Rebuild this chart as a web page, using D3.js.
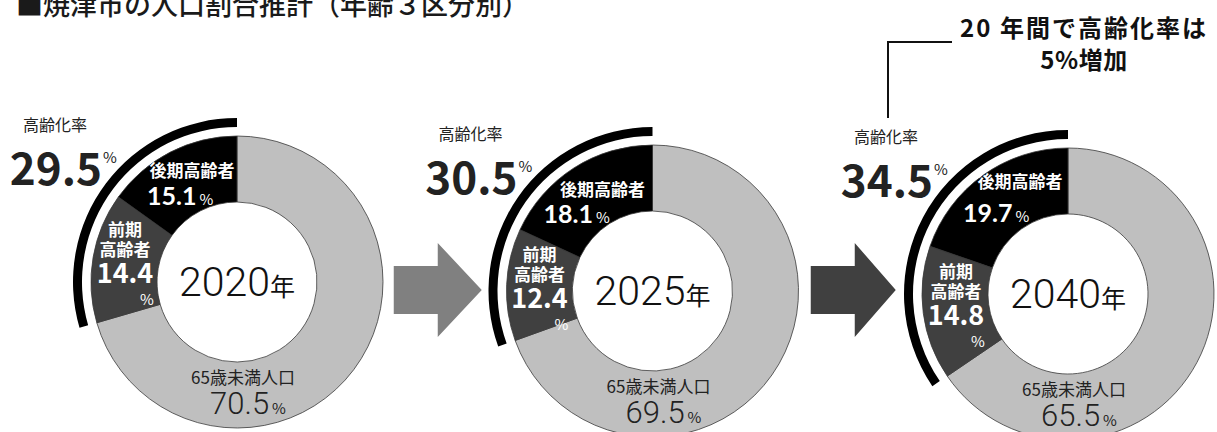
<!DOCTYPE html>
<html><head><meta charset="utf-8">
<script src="https://cdn.jsdelivr.net/npm/d3@7"></script>
<style>
html,body{margin:0;padding:0;background:#fff;}
svg{display:block;}
text{font-family:"Noto Sans CJK JP","Noto Sans",sans-serif;}
</style></head><body>
<svg id="chart" width="1217" height="432"></svg>
<script>
// ---- data ----
const years = ["2020", "2025", "2040"];
const segmentNames = ["65歳未満人口", "前期高齢者", "後期高齢者"];
const under65 = [70.5, 69.5, 65.5];        // 65歳未満人口 (%)
const earlyElderly = [14.4, 12.4, 14.8];   // 前期高齢者 (%)
const lateElderly = [15.1, 18.1, 19.7];    // 後期高齢者 (%)
const agingRate = [29.5, 30.5, 34.5];      // 高齢化率 (%)
const rateLabel = "高齢化率";
const titleText = "■焼津市の人口割合推計（年齢３区分別）";
const noteLines = ["20 年間で高齢化率は", "5%増加"];

// ---- layout ----
const svg = d3.select("#chart");
const rOuter = 146, rInner = 80, rRateIn = 155, rRateOut = 164;
const colors = ["#bfbfbf", "#404040", "#000000"];
const xPos = d3.scalePoint().domain(years).range([237, 1068]);
const cyList = [282, 291, 294];
const labelLayout = [
  { lateName: [-45, -105], lateVal: [-90, -77], early: [-112, -46] },
  { lateName: [-50, -95],  lateVal: [-109, -68], early: [-113, -30] },
  { lateName: [-48, -106], lateVal: [-105, -72], early: [-112, -16] }
];
const angle = d3.scaleLinear().domain([0, 100]).range([0, 2 * Math.PI]);
const pie = d3.pie().sort(null).value(d => d);
const arcGen = d3.arc().innerRadius(rInner).outerRadius(rOuter);
const rateArc = d3.arc().innerRadius(rRateIn).outerRadius(rRateOut);

const boldNum = '"Lato","Noto Sans CJK JP",sans-serif';
const lightNum = '"Roboto","Noto Sans CJK JP",sans-serif';

// title
svg.append("text").attr("x", 16).attr("y", 15)
  .attr("font-size", 27).attr("font-weight", 500).attr("fill", "#1a1a1a").text(titleText);

// arrows between the rings
const arrowColors = ["#808080", "#404040"];
d3.pairs(years).forEach(([a, b], i) => {
  const mid = (xPos(a) + xPos(b)) / 2 - 7;
  const cy = 290;
  const w = 88 - i * 3, shaftW = 44, sh = 24, hh = 47;
  const x0 = mid - w / 2;
  const pts = [[x0, cy - sh], [x0 + shaftW, cy - sh], [x0 + shaftW, cy - hh], [x0 + w, cy],
               [x0 + shaftW, cy + hh], [x0 + shaftW, cy + sh], [x0, cy + sh]];
  svg.append("polygon").attr("points", pts.map(p => p.join(",")).join(" "))
    .attr("fill", arrowColors[i]);
});

years.forEach((yr, i) => {
  const cx = xPos(yr), cy = cyList[i], L = labelLayout[i];
  const g = svg.append("g").attr("transform", `translate(${cx},${cy})`);
  const values = [under65[i], earlyElderly[i], lateElderly[i]];

  g.selectAll("path.seg").data(pie(values)).join("path")
    .attr("class", "seg")
    .attr("d", arcGen)
    .attr("fill", (d, j) => colors[j])
    .attr("stroke", "#3a3a3a").attr("stroke-width", 0.8);

  // aging-rate band: sweeps counter-clockwise from 12 o'clock
  g.append("path")
    .attr("d", rateArc({ startAngle: -angle(agingRate[i]), endAngle: 0 }))
    .attr("fill", "#000");

  // centre year
  const yt = g.append("text").attr("text-anchor", "middle").attr("y", 14).attr("fill", "#111");
  yt.append("tspan").attr("font-family", lightNum).attr("font-weight", 300)
    .attr("font-size", 41).text(yr);
  yt.append("tspan").attr("font-size", 25).text("年");

  // aging-rate labels
  g.append("text").attr("x", -182).attr("y", -151).attr("text-anchor", "middle")
    .attr("font-size", 16).attr("fill", "#222").text(rateLabel);
  g.append("text").attr("x", -135).attr("y", -97).attr("text-anchor", "end")
    .attr("font-family", boldNum).attr("font-weight", 700)
    .attr("font-size", 44).attr("fill", "#222").text(agingRate[i].toFixed(1));
  g.append("text").attr("x", -134).attr("y", -119)
    .attr("font-size", 15).attr("fill", "#222").text("%");

  // 後期高齢者
  g.append("text").attr("x", L.lateName[0]).attr("y", L.lateName[1]).attr("text-anchor", "middle")
    .attr("font-size", 17).attr("font-weight", 700).attr("fill", "#fff").text(segmentNames[2]);
  const lv = g.append("text").attr("x", L.lateVal[0]).attr("y", L.lateVal[1]).attr("fill", "#fff");
  lv.append("tspan").attr("font-family", boldNum).attr("font-weight", 700)
    .attr("font-size", 25).text(lateElderly[i].toFixed(1));
  lv.append("tspan").attr("dx", 3).attr("font-size", 15).text("%");

  // 前期高齢者
  const [ex, ey] = L.early;
  g.append("text").attr("x", ex).attr("y", ey).attr("text-anchor", "middle")
    .attr("font-size", 17).attr("font-weight", 700).attr("fill", "#fff").text(segmentNames[1].slice(0, 2));
  g.append("text").attr("x", ex).attr("y", ey + 20).attr("text-anchor", "middle")
    .attr("font-size", 17).attr("font-weight", 700).attr("fill", "#fff").text(segmentNames[1].slice(2));
  g.append("text").attr("x", ex).attr("y", ey + 47).attr("text-anchor", "middle")
    .attr("font-family", boldNum).attr("font-weight", 700)
    .attr("font-size", 27).attr("fill", "#fff").text(earlyElderly[i].toFixed(1));
  g.append("text").attr("x", ex + 22).attr("y", ey + 69).attr("text-anchor", "middle")
    .attr("font-size", 15).attr("fill", "#fff").text("%");

  // 65歳未満人口
  g.append("text").attr("x", 6).attr("y", 102).attr("text-anchor", "middle")
    .attr("font-size", 17).attr("fill", "#222").text(segmentNames[0]);
  const uv = g.append("text").attr("x", 11).attr("y", 132).attr("text-anchor", "middle").attr("fill", "#222");
  uv.append("tspan").attr("font-family", lightNum).attr("font-weight", 300)
    .attr("font-size", 31).text(under65[i].toFixed(1));
  uv.append("tspan").attr("dx", 3).attr("font-size", 15).text("%");
});

// call-out over the last ring
const lastX = xPos(years[years.length - 1]);
svg.append("path")
  .attr("d", `M${lastX - 180},118 V42 H${lastX - 116}`)
  .attr("fill", "none").attr("stroke", "#111").attr("stroke-width", 2);
noteLines.forEach((t, k) => {
  svg.append("text").attr("x", lastX + 16).attr("y", 37 + k * 32).attr("text-anchor", "middle")
    .attr("font-size", 24).attr("font-weight", 700).attr("fill", "#111")
    .attr("letter-spacing", k === 0 ? 2 : 0.5).text(t);
});
</script>
</body></html>
